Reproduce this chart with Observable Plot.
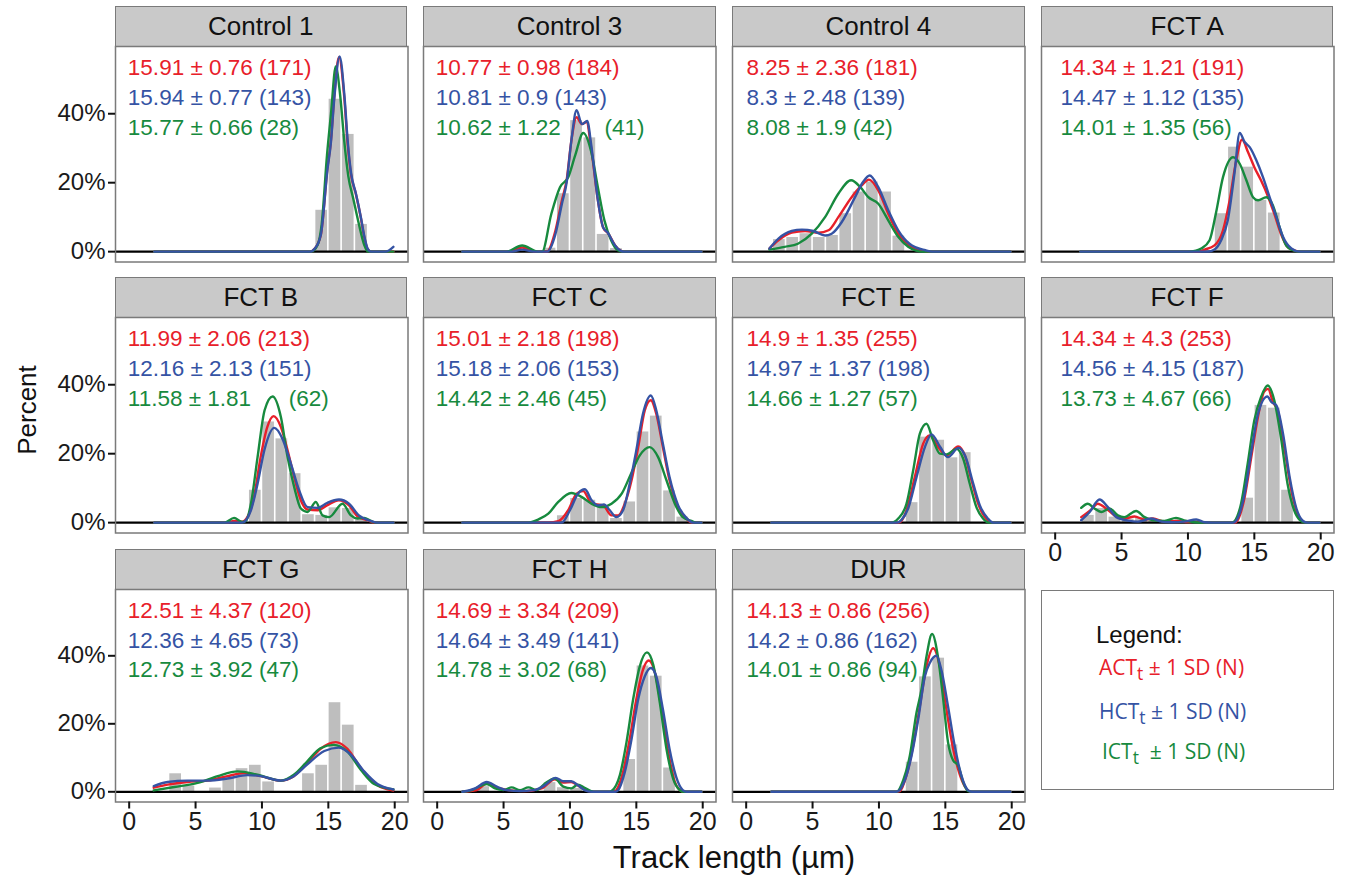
<!DOCTYPE html>
<html><head><meta charset="utf-8">
<script src="https://cdn.jsdelivr.net/npm/d3@7"></script>
<script src="https://cdn.jsdelivr.net/npm/@observablehq/plot@0.6"></script>
<style>
body{margin:0;background:#fff;}
#chart{position:relative;width:1346px;height:881px;font-family:"Liberation Sans",Arial,Helvetica,sans-serif;overflow:hidden;background:#fff;color:#111;}
.strip{position:absolute;box-sizing:border-box;background:#c9c9c9;border:1.5px solid #7a7a7a;font-size:26px;display:flex;align-items:center;justify-content:center;color:#111;}
.ttl{position:absolute;white-space:nowrap;color:#111;}
#legend{position:absolute;box-sizing:border-box;border:1.5px solid #7a7a7a;background:#fff;}
#legend .lt{position:absolute;font-size:24px;}
#legend .li{position:absolute;font-family:"Open Sans","Noto Sans",sans-serif;font-size:21px;white-space:nowrap;}
</style></head><body><div id="chart"></div>
<script>
// ---------- data ----------
const panelNames = ["Control 1","Control 3","Control 4","FCT A","FCT B","FCT C","FCT E","FCT F","FCT G","FCT H","DUR"];

// histogram percent per 1-µm bin, bins [0,1) ... [19,20)
const histPct = [
  [0,0,0,0,0,0,0,0,0,0,0,0,0,0,12,44.2,34,7.9,0,0],
  [0,0,0,0,0,0,0,0,1,16.8,38,33,5,0.9,0,0,0,0,0,0],
  [0,0,3.5,4.1,5.2,4.1,4.7,11,17.3,20.2,17.3,4.5,0,0,0,0,0,0,0,0],
  [0,0,0,0,0,0,0,0,0,0,0,0,11,30.3,24.5,14.9,11.2,0,0,0],
  [0,0,0,0,0,0,0,0,0,9.4,29.2,24.3,14.2,2.3,2.1,4.3,4.1,1.2,0,0],
  [0,0,0,0,0,0,0,0,0,2,7,6.5,4.5,1.2,6,26.3,30.9,9.2,1.6,0],
  [0,0,0,0,0,0,0,0,0,0,0,0,5.8,24.8,23.9,18.8,20.3,0,0,0],
  [0,0,2.1,4.1,1.6,1,1.5,0.5,0,0.8,0,0,0,0,7.1,34,33.2,9.4,0,0],
  [0,0,0,5.3,1.7,0,1.1,4.1,6.8,7.8,2.9,0,0,5.3,7.8,26.2,19.6,1.9,0,0],
  [0,0,0,1.5,0,0,0,0,2.7,1.2,1,0,0,0,9.5,37,34,7,0,0],
  [0,0,0,0,0,0,0,0,0,0,0,0,8.7,33.8,39.3,13.8,0,0,0,0]
];

// density curves [track length µm, percent]
const actCurves = [
  [[1.9,0],[13.6,0],[14.0,1],[14.44,5],[14.94,24.5],[15.19,32],[15.44,44.8],[15.8,56.4],[16.2,44.8],[16.44,32],[16.7,22.6],[17.07,16.8],[17.44,10],[17.7,4.3],[17.94,0.9],[18.2,0],[19.9,0]],
  [[1.9,0],[5.3,0],[6.4,1.2],[7.5,0],[8.25,0],[8.9,6],[9.4,15],[9.75,20.7],[10.1,32],[10.5,39],[10.9,37],[11.25,37.6],[11.6,30],[12.1,15],[12.5,7],[12.9,5.2],[13.4,1.8],[13.8,0.3],[14.1,0],[19.9,0]],
  [[1.75,0.9],[2.43,3.3],[3.43,5.5],[4.44,6],[5.44,5.5],[6.2,6.2],[6.94,10],[7.94,15.8],[8.7,19.2],[9.25,20.9],[9.95,17.8],[10.7,11],[11.45,5.2],[12.3,1.8],[13.2,0.4],[13.8,0],[19.9,0]],
  [[1.9,0],[10.75,0],[11.25,0.6],[12.0,1.8],[12.64,6.2],[13.14,14.9],[13.64,26.5],[14.07,32.5],[14.52,28.9],[15.0,24.5],[15.5,20.7],[16.0,16.3],[16.5,11],[17.0,5.2],[17.5,1.4],[18.0,0.4],[18.5,0],[19.9,0]],
  [[1.9,0],[7.3,0],[7.9,0.5],[8.5,0.3],[8.9,1.6],[9.4,7.4],[9.9,19],[10.4,27.7],[10.88,30.9],[11.43,27.7],[11.93,21],[12.43,13.2],[12.93,6.5],[13.43,3.8],[14.2,3.6],[14.9,5],[15.8,6.5],[16.56,5],[17.2,1.8],[17.95,0.7],[18.5,0],[19.9,0]],
  [[1.9,0],[8.37,0],[9.12,0.4],[9.87,3.6],[10.5,8.4],[11.0,9.2],[11.63,5.5],[12.5,5],[13.13,2.1],[13.63,2.1],[14.13,5.5],[14.64,12.3],[15.14,21.9],[15.64,32.6],[16.09,35.5],[16.5,31.6],[17.0,21.9],[17.5,12.3],[18.15,4.5],[18.77,1.2],[19.2,0],[19.9,0]],
  [[1.9,0],[11.5,0],[12.08,3.6],[12.7,13.2],[13.33,22.9],[13.83,25.3],[14.46,21.9],[15.1,19.5],[15.97,22.1],[16.47,19.5],[16.97,12.3],[17.47,5.5],[17.97,1.6],[18.5,0],[19.9,0]],
  [[1.96,1.6],[2.71,3.8],[3.2,5.5],[3.84,4.1],[4.47,2.1],[5.23,1.2],[5.98,1.8],[6.73,0.9],[7.36,1.2],[8.24,0.3],[9.2,0.5],[10.0,0.2],[10.75,0.3],[11.5,0],[13.5,0],[13.77,0.9],[14.27,7.4],[14.77,19],[15.27,30.6],[15.73,37.9],[16.03,38.8],[16.4,35],[16.78,32.3],[17.29,21],[17.79,9.4],[18.3,2.1],[18.9,0],[19.9,0]],
  [[1.85,1.2],[2.9,2.1],[4.4,2.9],[5.9,3.3],[7.4,4.6],[8.67,5.5],[9.92,4.6],[11.4,3.3],[12.4,4.6],[13.4,8.4],[14.4,12.6],[15.56,14.6],[16.44,12.6],[17.44,7],[18.45,2.6],[19.45,0.7],[19.9,0.4]],
  [[1.9,0],[2.98,0.5],[3.73,2.4],[4.49,1.2],[5.36,0.5],[6.6,0.2],[7.87,1],[8.87,3.7],[9.5,2.7],[10.1,2.9],[10.75,1.5],[11.4,0.2],[12,0],[13.2,0],[13.4,0.2],[14.0,5.8],[14.5,15.5],[15.0,27.2],[15.5,35.9],[15.94,38.6],[16.4,35],[16.9,24.3],[17.4,11.7],[17.9,2.9],[18.4,0.2],[18.6,0],[19.9,0]],
  [[1.9,0],[11.3,0],[11.58,0.2],[12.08,4.9],[12.58,13.6],[13.08,25.2],[13.58,36.9],[14.08,42.2],[14.58,36.9],[15.08,24.3],[15.59,12.6],[16.1,4.9],[16.6,0.8],[16.9,0],[19.9,0]]
];
const hctCurves = [
  [[1.9,0],[13.6,0],[14.0,1],[14.44,5],[14.94,24],[15.19,31.5],[15.44,44],[15.85,56.6],[16.22,44.8],[16.46,32],[16.72,22.6],[17.08,16.8],[17.45,10],[17.72,4.3],[17.96,0.9],[18.2,0],[19.3,0],[19.9,1.4]],
  [[1.9,0],[5.6,0],[6.4,0.6],[7.3,0],[8.3,0],[8.9,5],[9.4,14],[9.75,20],[10.1,32],[10.5,41],[10.9,37],[11.3,37.9],[11.6,31],[12.1,15],[12.5,7],[12.85,5.5],[13.4,1.8],[13.8,0.3],[14.1,0],[19.9,0]],
  [[1.75,0.9],[2.43,3.8],[3.43,6],[4.2,6.4],[5.06,6],[5.94,4.7],[6.44,5.2],[7.2,8.6],[8.2,15.8],[8.8,20.2],[9.3,22.1],[9.95,18.7],[10.7,12],[11.45,6.2],[12.3,2.3],[13.5,0.4],[14.0,0],[19.9,0]],
  [[1.9,0],[11.5,0],[12.0,0.6],[12.5,3.3],[13.0,9.1],[13.5,22.6],[13.9,34.4],[14.27,31.8],[14.65,30.3],[15.15,26.5],[15.65,21.6],[16.15,15.8],[16.66,10],[17.16,4.3],[17.79,0.9],[18.4,0],[19.9,0]],
  [[1.9,0],[8.5,0],[9.17,3.6],[9.67,11.3],[10.18,21],[10.93,27.5],[11.55,24.3],[12.18,17.1],[12.8,9.4],[13.43,4.5],[14.2,4.3],[14.9,5.7],[15.8,6.7],[16.56,5.5],[17.3,2.1],[18.2,0.5],[18.7,0],[19.9,0]],
  [[1.9,0],[9.37,0],[10.0,3.6],[10.6,8.4],[11.13,9.7],[11.63,6.5],[12.13,5],[12.56,5.3],[13.0,3.6],[13.5,1.6],[14.0,3.6],[14.5,11.3],[15.0,21],[15.5,31.6],[16.09,36.9],[16.5,32.6],[17.0,22.9],[17.5,13.2],[18.15,5],[18.77,1.4],[19.3,0],[19.9,0]],
  [[1.9,0],[11.4,0],[11.7,0.8],[12.2,4.1],[12.83,13.2],[13.46,21.9],[13.96,25.6],[14.6,22],[15.2,19],[16.0,21.7],[16.5,19.3],[17.1,11.3],[17.6,5],[18.2,1.2],[18.6,0],[19.9,0]],
  [[1.96,0.7],[2.6,3.1],[3.34,6.7],[3.97,4.5],[4.6,1.6],[5.48,0.6],[6.23,0.3],[7.24,1.2],[8.0,0.3],[8.74,0.1],[9.7,0.3],[10.63,0.9],[11.26,0.1],[11.8,0],[13.4,0],[13.64,0.6],[14.27,8.4],[14.77,20.5],[15.28,31.6],[15.98,36.6],[16.28,35],[16.66,34],[17.16,25.8],[17.66,13.2],[18.17,4.1],[18.67,0.5],[19.0,0],[19.9,0]],
  [[1.85,1.7],[2.9,2.9],[4.4,3.3],[5.9,3.3],[7.4,3.9],[8.9,4.9],[9.92,4.6],[11.4,3.3],[12.4,4.6],[13.4,8],[14.7,12],[15.8,13],[16.7,10.9],[17.7,6],[18.7,2.3],[19.9,0.7]],
  [[1.9,0],[2.86,1],[3.73,2.9],[4.49,1.5],[5.24,0.5],[6.2,0.2],[7.3,0.5],[8.1,1.9],[8.92,4.1],[9.5,3.1],[10.1,3.1],[10.6,1.9],[11.1,0.5],[11.6,0],[13.4,0],[13.63,0.5],[14.13,5.8],[14.64,15.5],[15.14,27.2],[15.64,34],[16.09,36.4],[16.5,34],[17.0,24.3],[17.5,12.6],[18.0,4.4],[18.5,0.5],[18.8,0],[19.9,0]],
  [[1.9,0],[11.2,0],[11.45,0.2],[11.95,3.4],[12.46,10.7],[12.96,21.4],[13.46,34],[13.83,37.9],[14.33,40],[14.7,35.9],[15.2,25.2],[15.7,13.6],[16.2,4.9],[16.7,0.5],[17.0,0],[19.9,0]]
];
const ictCurves = [
  [[1.9,0],[13.7,0],[14.2,2],[14.5,8],[14.9,28],[15.2,40],[15.56,53.7],[15.9,45],[16.2,32],[16.5,22],[16.9,15],[17.3,8],[17.7,2],[18.0,0],[19.9,0]],
  [[1.9,0],[5.2,0],[6.4,1.8],[7.6,0],[7.9,0],[8.6,11],[9.25,18.7],[9.87,21.6],[10.4,28],[11.0,34.4],[11.6,29],[12.1,18.7],[12.6,9],[13.1,3.3],[13.6,0.4],[14.0,0],[19.9,0]],
  [[1.75,0.6],[2.9,1.4],[3.9,2.3],[4.94,5.2],[5.94,10],[6.94,16.8],[7.9,20.7],[8.6,18.7],[9.2,15.8],[9.95,13.9],[10.7,9.1],[11.45,4.3],[12.2,1.4],[12.8,0.3],[13.2,0],[19.9,0]],
  [[1.9,0],[10.0,0],[10.6,0.3],[11.0,0.9],[11.63,3.3],[12.1,11],[12.64,21.6],[13.4,27.4],[13.9,25.5],[14.4,20.7],[14.9,15.8],[15.28,14.9],[15.9,15.8],[16.4,13.4],[16.9,7.1],[17.4,1.8],[17.9,0.4],[18.3,0],[19.9,0]],
  [[1.9,0],[7.2,0],[7.9,1.4],[8.5,0.2],[8.8,0.5],[9.17,5.5],[9.67,19],[10.2,32.6],[10.8,36.6],[11.43,30.6],[11.93,19],[12.43,10.3],[12.93,4.1],[13.43,3.1],[14.06,6],[14.56,2.1],[15.06,1.6],[16.07,5.5],[16.7,2.1],[17.2,1.2],[17.7,1.4],[18.2,0.5],[18.6,0],[19.9,0]],
  [[1.9,0],[6.87,0],[7.6,0.9],[8.37,2.6],[9.12,6],[10.1,8.6],[10.9,7.4],[11.63,5.5],[12.38,4.5],[13.13,5.5],[13.9,8.4],[14.6,14.2],[15.26,19.5],[16.0,21.9],[16.64,19],[17.27,12.3],[17.9,5.5],[18.5,1.6],[19.15,0.5],[19.5,0],[19.9,0]],
  [[1.9,0],[10.95,0],[11.45,1.2],[12.08,5.5],[12.58,15.2],[13.08,25.8],[13.58,28.7],[14.08,23.9],[14.59,20],[15.1,19.8],[15.84,21.4],[16.34,18.6],[16.84,11.3],[17.34,4.5],[17.84,1.2],[18.3,0],[19.9,0]],
  [[1.96,4.3],[2.46,5.5],[2.96,4.1],[3.47,3.1],[4.1,4.1],[4.72,2.1],[5.2,1.6],[6.1,3.4],[6.73,1.6],[7.36,0.7],[8.24,0.5],[9.1,1.4],[9.87,0.5],[10.5,0.1],[11.0,0],[13.3,0],[13.5,0.4],[14.0,5.5],[14.5,17.1],[15.0,29.7],[15.5,36.4],[16.0,39.8],[16.5,35.5],[17.0,24.8],[17.5,11.3],[18.0,3.6],[18.5,0.5],[18.8,0],[19.9,0]],
  [[1.85,0.4],[3.4,1.4],[5.16,2.6],[6.67,4.6],[8.17,6],[9.67,5],[11.43,3.3],[12.4,5],[13.4,8.9],[14.4,12.8],[15.4,13.8],[16.44,11.8],[17.44,6.5],[18.45,2.3],[19.9,0.7]],
  [[1.9,0],[2.6,0.5],[3.36,1.9],[3.73,2.3],[4.36,1],[4.99,0.5],[5.6,1.3],[6.24,0.5],[6.87,1.3],[7.5,0.5],[8.1,2.4],[8.87,3.9],[9.5,1.5],[10.1,1],[10.6,2.1],[11.1,1.2],[11.6,0.2],[12,0],[13.0,0],[13.13,0.2],[13.76,4.9],[14.26,14.6],[14.76,27.2],[15.26,36.9],[15.8,41],[16.27,37.4],[16.77,26.2],[17.27,12.6],[17.77,3.9],[18.27,0.5],[18.5,0],[19.9,0]],
  [[1.9,0],[11.33,0],[11.83,3.4],[12.33,10.7],[12.83,23.3],[13.2,30],[13.58,39.8],[14.0,46.4],[14.46,39.3],[14.84,27.2],[15.2,14.6],[15.59,9.2],[15.96,7.8],[16.34,2.9],[16.72,0.2],[17.0,0],[19.9,0]]
];

// annotation texts: mean ± SD (N)
const actLabels = ["15.91 ± 0.76 (171)","10.77 ± 0.98 (184)","8.25 ± 2.36 (181)","14.34 ± 1.21 (191)","11.99 ± 2.06 (213)","15.01 ± 2.18 (198)","14.9 ± 1.35 (255)","14.34 ± 4.3 (253)","12.51 ± 4.37 (120)","14.69 ± 3.34 (209)","14.13 ± 0.86 (256)"];
const hctLabels = ["15.94 ± 0.77 (143)","10.81 ± 0.9 (143)","8.3 ± 2.48 (139)","14.47 ± 1.12 (135)","12.16 ± 2.13 (151)","15.18 ± 2.06 (153)","14.97 ± 1.37 (198)","14.56 ± 4.15 (187)","12.36 ± 4.65 (73)","14.64 ± 3.49 (141)","14.2 ± 0.86 (162)"];
const ictLabels = ["15.77 ± 0.66 (28)","10.62 ± 1.22\u00a0\u00a0\u00a0\u00a0\u00a0\u00a0\u00a0(41)","8.08 ± 1.9 (42)","14.01 ± 1.35 (56)","11.58 ± 1.81\u00a0\u00a0\u00a0\u00a0\u00a0\u00a0(62)","14.42 ± 2.46 (45)","14.66 ± 1.27 (57)","13.73 ± 4.67 (66)","12.73 ± 3.92 (47)","14.78 ± 3.02 (68)","14.01 ± 0.86 (94)"];

const yTicks = [0, 20, 40];
const xTicks = [0, 5, 10, 15, 20];

// ---------- styling / layout ----------
const RED = "#e8202a", BLUE = "#3553a4", GREEN = "#178a3e";
const panelLeft = [114.5, 423.3, 732.1, 1040.9];
const stripTop = [6, 277, 548.5];
const stripH = [40, 40, 40.3];
const panelHs = [215.5, 215.5, 212.5];
const panelW = 292.5;
const labelX = [-0.1, -0.1, 0.03, 0.4];
const FONT = '"Liberation Sans", Arial, Helvetica, sans-serif';

const chart = document.getElementById("chart");

panelNames.forEach((name, i) => {
  const col = i % 4, row = Math.floor(i / 4);
  const showY = col === 0;
  const showX = row === 2 || i === 7;
  const panelH = panelHs[row];
  const mL = showY ? 80 : 2, mR = 2, mT = 1, mB = showX ? 52 : 2;
  const left = panelLeft[col], top = stripTop[row] + stripH[row];

  const strip = document.createElement("div");
  strip.className = "strip";
  strip.style.left = left + "px";
  strip.style.top = stripTop[row] + "px";
  strip.style.width = panelW + "px";
  strip.style.height = (stripH[row] + 1) + "px";
  strip.textContent = name;
  chart.appendChild(strip);

  const bars = histPct[i].map((v, k) => ({x1: k, x2: k + 1, y: v})).filter(d => d.y > 0);
  const lineOpts = (c) => ({x: d => d[0], y: d => d[1], stroke: c, strokeWidth: 2.4, curve: "monotone-x"});
  const txt = (t, y, c) => Plot.text([t], {x: labelX[col], y, text: d => d, textAnchor: "start", lineAnchor: "middle", fill: c, fontSize: 22.5, fontFamily: FONT});

  const marks = [
    Plot.rectY(bars, {x1: "x1", x2: "x2", y: "y", fill: "#bebebe", insetLeft: 0.8, insetRight: 0.8}),
    Plot.ruleY([0], {stroke: "#000", strokeWidth: 2.2}),
    Plot.line(actCurves[i], lineOpts(RED)),
    Plot.line(ictCurves[i], lineOpts(GREEN)),
    Plot.line(hctCurves[i], lineOpts(BLUE)),
    txt(actLabels[i], 53.2, RED),
    txt(hctLabels[i], 44.5, BLUE),
    txt(ictLabels[i], 35.9, GREEN),
    Plot.frame({stroke: "#7a7a7a", strokeWidth: 1.5})
  ];
  if (showY) marks.push(Plot.axisY(yTicks, {tickFormat: d => d + "%", tickSize: 7, tickPadding: 3, strokeWidth: 2, fontSize: 24, fill: "#1a1a1a", label: null}));
  if (showX) marks.push(Plot.axisX(xTicks, {tickSize: 7, tickPadding: 3, strokeWidth: 2, fontSize: 25, fill: "#1a1a1a", label: null}));

  const svg = Plot.plot({
    width: panelW + mL + mR,
    height: panelH + mT + mB,
    marginLeft: mL, marginRight: mR, marginTop: mT, marginBottom: mB,
    style: {background: "transparent", overflow: "visible", fontFamily: FONT},
    x: {domain: [-1.03, 21.0], axis: null},
    y: {domain: [-3.0, 59.5], axis: null},
    marks
  });
  svg.style.position = "absolute";
  svg.style.left = (left - mL) + "px";
  svg.style.top = (top - mT) + "px";
  chart.appendChild(svg);
});

// axis titles
const yt = document.createElement("div");
yt.className = "ttl";
yt.textContent = "Percent";
yt.style.fontSize = "26px";
yt.style.left = "27px"; yt.style.top = "410px";
yt.style.transform = "translate(-50%,-50%) rotate(-90deg)";
chart.appendChild(yt);

const xt = document.createElement("div");
xt.className = "ttl";
xt.textContent = "Track length (µm)";
xt.style.fontSize = "31px";
xt.style.left = "734px"; xt.style.top = "858px";
xt.style.transform = "translate(-50%,-50%)";
chart.appendChild(xt);

// legend box
const lg = document.createElement("div");
lg.id = "legend";
lg.style.left = "1041px"; lg.style.top = "590px"; lg.style.width = "292.5px"; lg.style.height = "200px";
lg.innerHTML = `<div class="lt" style="left:54px;top:30px">Legend:</div>
<div class="li" style="left:57px;top:62px;color:${RED}">ACT<sub>t</sub> ± 1 SD (N)</div>
<div class="li" style="left:57px;top:106px;color:${BLUE}">HCT<sub>t</sub> ± 1 SD (N)</div>
<div class="li" style="left:60px;top:146px;color:${GREEN}">ICT<sub>t</sub>&nbsp; ± 1 SD (N)</div>`;
chart.appendChild(lg);
</script></body></html>
